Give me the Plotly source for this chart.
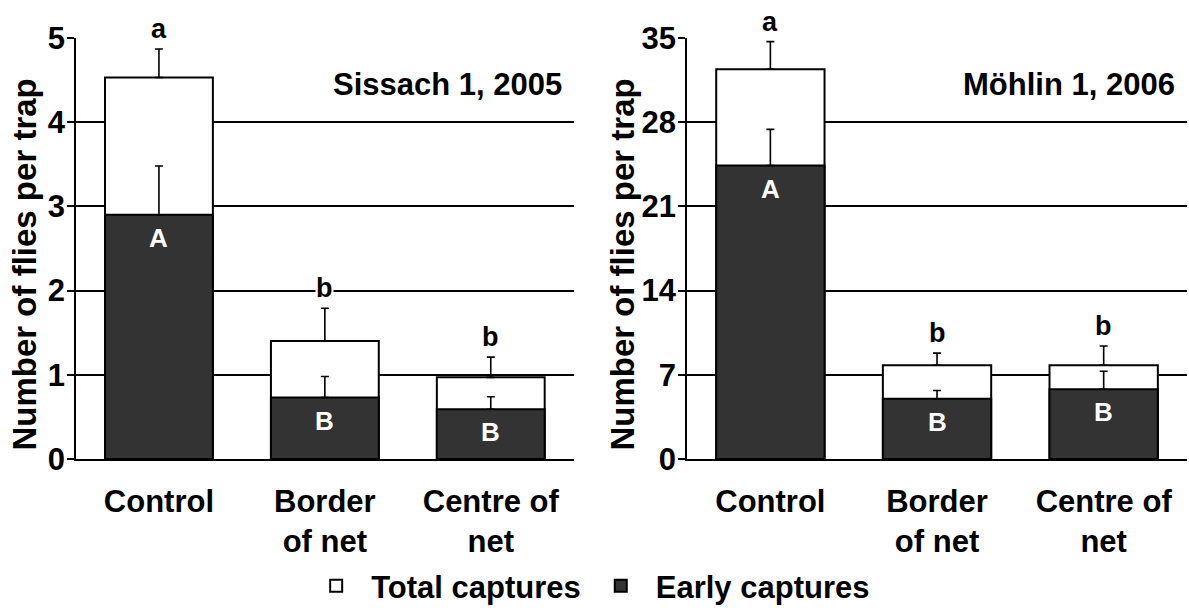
import plotly.graph_objects as go
from plotly.subplots import make_subplots

categories = ['Control', 'Border<br>of net', 'Centre of<br>net']

# Sissach 1, 2005
sis_total = [4.53, 1.40, 0.97]
sis_total_err = [0.34, 0.39, 0.24]
sis_early = [2.90, 0.73, 0.59]
sis_early_err = [0.58, 0.25, 0.15]
sis_upper = ['a', 'b', 'b']
sis_lower = ['A', 'B', 'B']

# Möhlin 1, 2006
moh_total = [32.4, 7.8, 7.8]
moh_total_err = [2.3, 1.0, 1.6]
moh_early = [24.4, 5.0, 5.8]
moh_early_err = [3.0, 0.7, 1.5]
moh_upper = ['a', 'b', 'b']
moh_lower = ['A', 'B', 'B']

panel_titles = ['Sissach 1, 2005', 'Möhlin 1, 2006']
y_ticks = [[0, 1, 2, 3, 4, 5], [0, 7, 14, 21, 28, 35]]
y_max = [5, 35]
y_title = 'Number of flies per trap'

FONT = 'Liberation Sans, Arial, sans-serif'
DARK = '#333333'

fig = make_subplots(rows=1, cols=2, horizontal_spacing=0.1)
fig.update_layout(xaxis=dict(domain=[0, 0.448]), xaxis2=dict(domain=[0.55, 1]))

panels = [
    (sis_total, sis_total_err, sis_early, sis_early_err, sis_upper, sis_lower),
    (moh_total, moh_total_err, moh_early, moh_early_err, moh_upper, moh_lower),
]
title_shift = [-52, -65]

for i, (tot, tot_err, early, early_err, upper, lower) in enumerate(panels):
    col = i + 1
    fig.add_trace(go.Bar(
        x=categories, y=tot, name='Total captures', showlegend=(i == 0),
        marker=dict(color='white', line=dict(color='black', width=2)),
        width=0.65,
        error_y=dict(type='data', array=tot_err, symmetric=False, arrayminus=[0] * 3,
                     color='black', thickness=1.6, width=4),
    ), row=1, col=col)
    fig.add_trace(go.Bar(
        x=categories, y=early, name='Early captures', showlegend=(i == 0),
        marker=dict(color=DARK, line=dict(color='black', width=2)),
        width=0.65,
        error_y=dict(type='data', array=early_err, symmetric=False, arrayminus=[0] * 3,
                     color='black', thickness=1.6, width=4),
    ), row=1, col=col)

    xref = 'x' if i == 0 else 'x2'
    yref = 'y' if i == 0 else 'y2'
    for c, t, e, lab in zip(categories, tot, tot_err, upper):
        fig.add_annotation(x=c, y=t + e, xref=xref, yref=yref, text=lab, showarrow=False,
                           yshift=20, bgcolor='white', borderpad=0,
                           font=dict(family=FONT, size=27, color='black', weight='bold'))
    for c, v, lab in zip(categories, early, lower):
        fig.add_annotation(x=c, y=v, xref=xref, yref=yref, text=lab, showarrow=False,
                           yshift=-23,
                           font=dict(family=FONT, size=26, color='white', weight='bold'))
    fig.add_annotation(x=1, y=0.889, xref=xref + ' domain', yref=yref + ' domain',
                       text=panel_titles[i], showarrow=False, xanchor='right', yanchor='middle',
                       xshift=-10,
                       font=dict(family=FONT, size=31, color='black', weight='bold'))
    # y axis title
    fig.add_annotation(x=0, y=0.462, xref=xref + ' domain', yref=yref + ' domain',
                       text=y_title, showarrow=False, textangle=-90,
                       xanchor='center', yanchor='middle', xshift=title_shift[i],
                       font=dict(family=FONT, size=33, color='black', weight='bold'))

    fig.update_yaxes(
        range=[0, y_max[i]], tickvals=y_ticks[i], automargin=False,
        showgrid=True, gridcolor='black', gridwidth=1.5,
        showline=True, linecolor='black', linewidth=1.5,
        ticks='outside', ticklen=7, tickcolor='black', tickwidth=1.5,
        zeroline=False, ticklabelstandoff=-4,
        tickfont=dict(family=FONT, size=31, color='black', weight='bold'),
        row=1, col=col)
    fig.update_xaxes(
        range=[-0.5, 2.5], showline=True, linecolor='black', linewidth=1.5,
        showgrid=False, ticks='', ticklabelstandoff=14, automargin=False,
        tickfont=dict(family=FONT, size=31, color='black', weight='bold'),
        row=1, col=col)

fig.update_layout(
    width=1189, height=613,
    barmode='overlay',
    plot_bgcolor='white', paper_bgcolor='white',
    margin=dict(l=76, r=2, t=38, b=153),
    font=dict(family=FONT, color='black', weight='bold'),
    legend=dict(orientation='h', x=0.461, xanchor='center', y=-0.3626, yanchor='bottom',
                font=dict(family=FONT, size=31, color='black', weight='bold'),
                itemwidth=60, tracegroupgap=0),
)

fig.write_html('out.html', config={'displayModeBar': False},
               post_script="document.body.style.margin='0';")
